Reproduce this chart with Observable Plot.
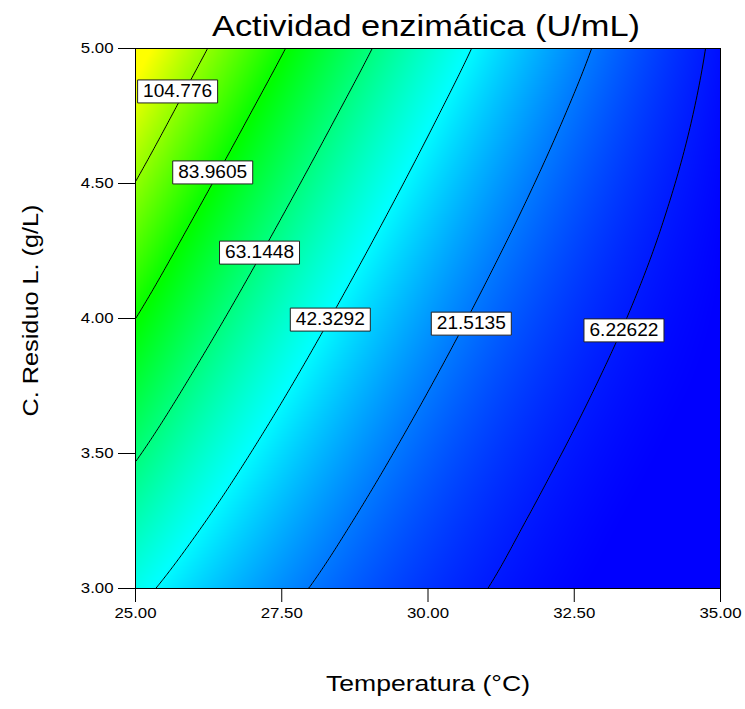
<!DOCTYPE html>
<html>
<head>
<meta charset="utf-8">
<script src="https://cdn.jsdelivr.net/npm/d3@7"></script>
<script src="https://cdn.jsdelivr.net/npm/@observablehq/plot@0.6"></script>
<style>
  html, body { margin: 0; padding: 0; background: #fff; }
  #wrap { position: relative; width: 745px; height: 709px; font-family: "Liberation Sans", Arial, sans-serif; }
  #title { position: absolute; left: 0; top: 0; }
</style>
</head>
<body>
<div id="wrap">
  <div id="chart"></div>
  <svg id="title" width="745" height="48"></svg>
</div>
<script>
// ---- data ----
const titleText = "Actividad enzimática (U/mL)";
const xLabel = "Temperatura (°C)";
const yLabel = "C. Residuo L. (g/L)";

const temperatura = [25, 26, 27, 28, 29, 30, 31, 32, 33, 34, 35];
const residuo = [5, 4.75, 4.5, 4.25, 4, 3.75, 3.5, 3.25, 3];
// estimated activity at each (residuo row, temperatura column)
const actividad = [
  [125.80, 108.60, 92.53, 77.58, 63.76, 51.06, 39.48, 29.04, 19.71, 11.52, 4.44],
  [115.05,  98.48, 83.12, 68.97, 56.01, 44.26, 33.71, 24.37, 16.24,  9.30, 3.57],
  [104.49,  88.66, 74.10, 60.79, 48.74, 37.94, 28.40, 20.11, 13.10,  7.32, 2.81],
  [ 94.14,  79.16, 65.47, 53.06, 41.94, 32.10, 23.54, 16.28, 10.29,  5.60, 2.18],
  [ 84.00,  69.98, 57.25, 45.79, 35.63, 26.76, 19.17, 12.87,  7.85,  4.12, 1.68],
  [ 74.07,  61.11, 49.41, 38.98, 29.81, 21.90, 15.25,  9.88,  5.75,  2.91, 1.31],
  [ 64.33,  52.54, 41.96, 32.61, 24.46, 17.52, 11.80,  7.29,  4.00,  1.92, 1.05],
  [ 54.84,  44.32, 34.95, 26.70, 19.60, 13.64,  8.82,  5.14,  2.59,  1.18, 0.92],
  [ 45.52,  36.39, 28.29, 21.24, 15.22, 10.24,  6.30,  3.40,  1.53,  0.71, 0.92]
];

const contourLevels = [6.22622, 21.5135, 42.3292, 63.1448, 83.9605, 104.776];
const labelText = ["104.776", "83.9605", "63.1448", "42.3292", "21.5135", "6.22622"];
const labelT = [25.72, 26.32, 27.12, 28.33, 30.74, 33.35];
const labelC = [4.841, 4.541, 4.244, 3.996, 3.981, 3.956];

const xTicks = [25, 27.5, 30, 32.5, 35];
const yTicks = [3, 3.5, 4, 4.5, 5];

const colorStops = [2, 43, 83, 121];
const colorRange = ["#0000ff", "#00ffff", "#00ff00", "#ffff00"];

// ---- tables built from the arrays ----
const grid = [];
residuo.forEach((c, i) => temperatura.forEach((t, j) => grid.push({T: t, C: c, f: actividad[i][j]})));
const labels = labelText.map((s, i) => ({label: s, T: labelT[i], C: labelC[i]}));

// smooth (Catmull-Rom) resampling of the regular grid of read values, for drawing
function bicubic(index, width, height, X, Y, V) {
  const key = v => Math.round(v * 1e4) / 1e4;
  const xs = Array.from(new Set(Array.from(index, i => key(X[i])))).sort((a, b) => a - b);
  const ys = Array.from(new Set(Array.from(index, i => key(Y[i])))).sort((a, b) => a - b);
  const nx = xs.length, ny = ys.length;
  const xi = new Map(xs.map((v, i) => [v, i])), yi = new Map(ys.map((v, i) => [v, i]));
  const G = Array.from({length: ny}, () => new Array(nx).fill(NaN));
  for (const i of index) G[yi.get(key(Y[i]))][xi.get(key(X[i]))] = V[i];
  const g = (r, c) => {
    if (c < 0) return 2 * g(r, 0) - g(r, 1);
    if (c > nx - 1) return 2 * g(r, nx - 1) - g(r, nx - 2);
    if (r < 0) return 2 * g(0, c) - g(1, c);
    if (r > ny - 1) return 2 * g(ny - 1, c) - g(ny - 2, c);
    return G[r][c];
  };
  const cr = (p0, p1, p2, p3, t) =>
    0.5 * (2 * p1 + (p2 - p0) * t + (2 * p0 - 5 * p1 + 4 * p2 - p3) * t * t + (3 * p1 - p0 - 3 * p2 + p3) * t * t * t);
  const sx = (xs[nx - 1] - xs[0]) / (nx - 1), sy = (ys[ny - 1] - ys[0]) / (ny - 1);
  const out = new Float64Array(width * height);
  for (let py = 0; py < height; ++py) {
    let v = (py + 0.5 - ys[0]) / sy;
    v = Math.max(0, Math.min(ny - 1, v));
    const r = Math.min(ny - 2, Math.floor(v)), fv = v - r;
    for (let px = 0; px < width; ++px) {
      let u = (px + 0.5 - xs[0]) / sx;
      u = Math.max(0, Math.min(nx - 1, u));
      const c = Math.min(nx - 2, Math.floor(u)), fu = u - c;
      const rows = [];
      for (let k = -1; k <= 2; ++k) rows.push(cr(g(r + k, c - 1), g(r + k, c), g(r + k, c + 1), g(r + k, c + 2), fu));
      out[py * width + px] = cr(rows[0], rows[1], rows[2], rows[3], fv);
    }
  }
  return out;
}

const boxSymbol = {
  draw(ctx) {
    ctx.moveTo(-40, -11.5); ctx.lineTo(40, -11.5); ctx.lineTo(40, 11.5); ctx.lineTo(-40, 11.5); ctx.closePath();
  }
};

const fmt = d3.format(".2f");

const chart = Plot.plot({
  width: 745,
  height: 709,
  marginTop: 48,
  marginLeft: 135,
  marginRight: 25,
  marginBottom: 121,
  style: {fontFamily: "'Liberation Sans', Arial, sans-serif", fontSize: "15px", color: "#000", background: "#fff"},
  x: {domain: [25, 35], ticks: xTicks, tickFormat: fmt, tickSize: 14, tickPadding: 5, label: null},
  y: {domain: [3, 5], ticks: yTicks, tickFormat: fmt, tickSize: 17, tickPadding: 5, label: null},
  color: {type: "linear", domain: colorStops, range: colorRange, interpolate: "rgb", clamp: true},
  marks: [
    Plot.raster(grid, {x: "T", y: "C", fill: "f", interpolate: bicubic, pixelSize: 1}),
    Plot.contour(grid, {x: "T", y: "C", value: "f", thresholds: contourLevels, interpolate: bicubic,
      stroke: "#000", fill: "none", strokeWidth: 1, pixelSize: 1}),
    Plot.frame({stroke: "#000", strokeWidth: 1}),
    Plot.dot(labels, {x: "T", y: "C", symbol: boxSymbol, fill: "#fff", stroke: "#222", strokeWidth: 1}),
    Plot.text(labels, {x: "T", y: "C", text: "label", fontSize: 17.5, fill: "#000"}),
    Plot.text([xLabel], {frameAnchor: "bottom", dy: 102, fontSize: 22, fill: "#000", textAnchor: "middle"}),
    Plot.text([yLabel], {frameAnchor: "left", dx: -105, dy: -8, rotate: -90, fontSize: 22, fill: "#000", textAnchor: "middle"})
  ]
});

document.getElementById("chart").appendChild(chart);

// title
const tsvg = d3.select("#title");
tsvg.append("text")
  .attr("x", 426).attr("y", 36)
  .attr("text-anchor", "middle")
  .attr("font-size", 30)
  .attr("font-family", "'Liberation Sans', Arial, sans-serif")
  .attr("fill", "#000")
  .attr("textLength", 428)
  .attr("lengthAdjust", "spacingAndGlyphs")
  .text(titleText);

// widen glyphs slightly, like the original rendering
function stretchTo(t, w) {
  t.style.whiteSpace = "normal";
  t.setAttribute("textLength", w.toFixed(1));
  t.setAttribute("lengthAdjust", "spacingAndGlyphs");
}
const labelSet = new Set(labelText);
for (const t of chart.querySelectorAll("text")) {
  const s = t.textContent;
  const w = t.getComputedTextLength();
  if (!(w > 0)) continue;
  if (s === xLabel) stretchTo(t, 204);
  else if (s === yLabel) stretchTo(t, 212);
  else if (labelSet.has(s)) stretchTo(t, w * 1.09);
  else if (/^\d+\.\d\d$/.test(s)) stretchTo(t, w * 1.12);
}
</script>
</body>
</html>
